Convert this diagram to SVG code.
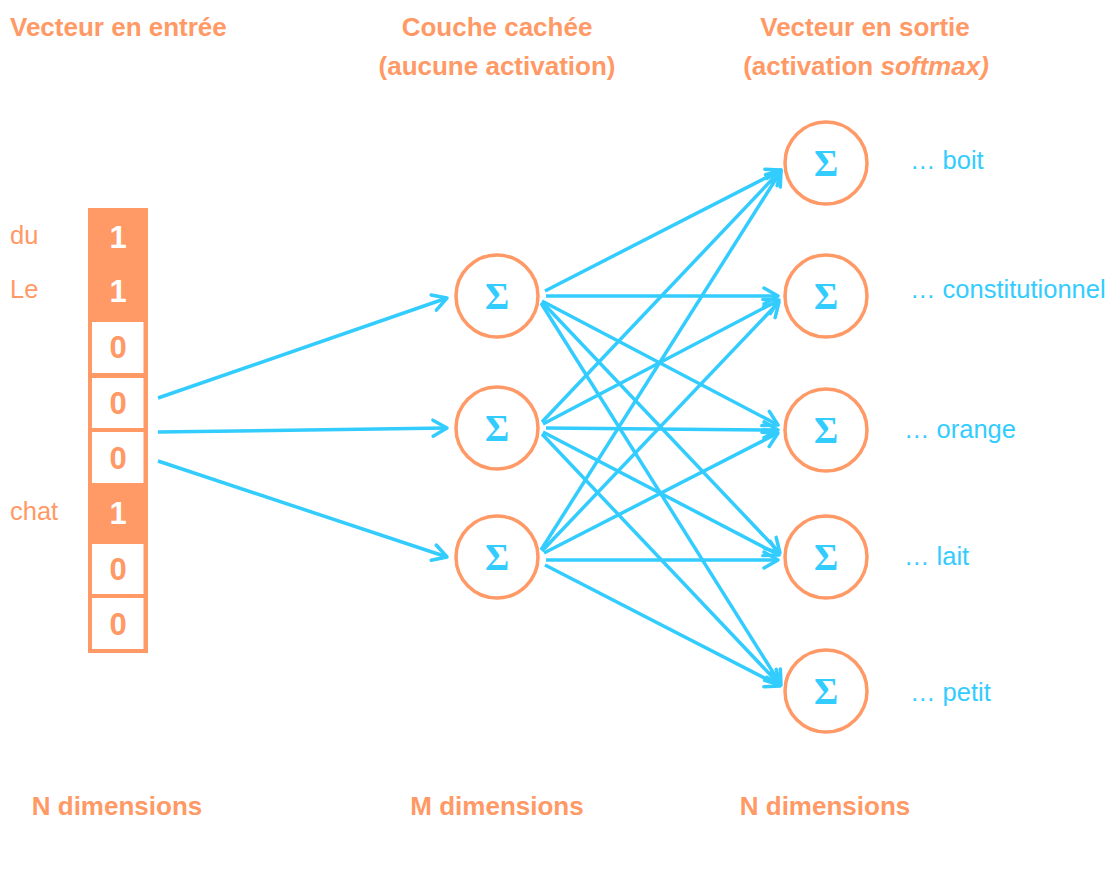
<svg xmlns="http://www.w3.org/2000/svg" width="1120" height="890" viewBox="0 0 1120 890">
<defs>
<style>
.title{font-family:"Liberation Sans",Arial,sans-serif;font-weight:bold;font-size:26px;fill:#FF9966}
.lab{font-family:"Liberation Sans",Arial,sans-serif;font-size:25.5px;fill:#FF9966}
.out{font-family:"Liberation Sans",Arial,sans-serif;font-size:25.5px;fill:#33CCFF}
.dig1{font-family:"Liberation Sans",Arial,sans-serif;font-weight:bold;font-size:31px;fill:#FFFFFF;text-anchor:middle}
.dig0{font-family:"Liberation Sans",Arial,sans-serif;font-weight:bold;font-size:31px;fill:#FF9966;text-anchor:middle}
.node{fill:#FFFFFF;stroke:#FF9966;stroke-width:3.5}
.sig{font-family:"Liberation Serif","Times New Roman",serif;font-weight:bold;font-size:37px;fill:#33CCFF;text-anchor:middle}
.edge{stroke:#33CCFF;stroke-width:3.5;fill:none;marker-end:url(#ah)}
.cell{fill:#FFFFFF}
</style>
<marker id="ah" markerUnits="userSpaceOnUse" markerWidth="24" markerHeight="24" viewBox="-18 -12 24 24" refX="0" refY="0" orient="auto" overflow="visible">
<path d="M-14,-8 L0,0 L-14,8" fill="none" stroke="#33CCFF" stroke-width="3.5" stroke-linecap="round" stroke-linejoin="round"/>
</marker>
</defs>
<rect width="1120" height="890" fill="#FFFFFF"/>

<g id="titles">
<text class="title" x="10" y="36">Vecteur en entrée</text>
<text class="title" x="497" y="36" text-anchor="middle">Couche cachée</text>
<text class="title" x="497" y="75" text-anchor="middle">(aucune activation)</text>
<text class="title" x="865" y="36" text-anchor="middle">Vecteur en sortie</text>
<text class="title" x="866" y="75" text-anchor="middle">(activation <tspan font-style="italic">softmax)</tspan></text>
<text class="title" x="117" y="815" text-anchor="middle">N dimensions</text>
<text class="title" x="497" y="815" text-anchor="middle">M dimensions</text>
<text class="title" x="825" y="815" text-anchor="middle">N dimensions</text>
</g>

<g id="input-vector">
<rect x="88" y="208" width="60" height="445" fill="#FF9966"/>
<rect class="cell" x="92" y="322" width="51.5" height="51"/>
<rect class="cell" x="92" y="378" width="51.5" height="50"/>
<rect class="cell" x="92" y="432" width="51.5" height="51"/>
<rect class="cell" x="92" y="544" width="51.5" height="50"/>
<rect class="cell" x="92" y="598" width="51.5" height="51"/>
<text class="dig1" x="118" y="248">1</text>
<text class="dig1" x="118" y="302">1</text>
<text class="dig0" x="118" y="358">0</text>
<text class="dig0" x="118" y="414">0</text>
<text class="dig0" x="118" y="469">0</text>
<text class="dig1" x="118" y="524">1</text>
<text class="dig0" x="118" y="580">0</text>
<text class="dig0" x="118" y="635">0</text>
<text class="lab" x="10" y="244">du</text>
<text class="lab" x="10" y="298">Le</text>
<text class="lab" x="10" y="520">chat</text>
</g>

<g id="connectors">
<line class="edge" x1="158" y1="398" x2="447" y2="298"/>
<line class="edge" x1="158" y1="432" x2="447" y2="428"/>
<line class="edge" x1="158" y1="461" x2="447" y2="557"/>

<line class="edge" x1="545" y1="291" x2="781" y2="170"/>
<line class="edge" x1="546" y1="296" x2="778" y2="296"/>
<line class="edge" x1="542" y1="301" x2="778" y2="425"/>
<line class="edge" x1="542" y1="302" x2="780" y2="553"/>
<line class="edge" x1="541" y1="303" x2="781" y2="685"/>

<line class="edge" x1="542" y1="422" x2="781" y2="170"/>
<line class="edge" x1="543" y1="424" x2="779" y2="300"/>
<line class="edge" x1="546" y1="428" x2="778" y2="430"/>
<line class="edge" x1="543" y1="432" x2="779" y2="555"/>
<line class="edge" x1="542" y1="434" x2="780" y2="685"/>

<line class="edge" x1="541" y1="550" x2="781" y2="171"/>
<line class="edge" x1="542" y1="551" x2="779" y2="302"/>
<line class="edge" x1="544" y1="553" x2="778" y2="433"/>
<line class="edge" x1="546" y1="560" x2="778" y2="560"/>
<line class="edge" x1="545" y1="565" x2="780" y2="686"/>
</g>

<g id="hidden-1"><circle class="node" cx="497" cy="296" r="41"/><text class="sig" x="497" y="309">Σ</text></g>
<g id="hidden-2"><circle class="node" cx="497" cy="428" r="41"/><text class="sig" x="497" y="441">Σ</text></g>
<g id="hidden-3"><circle class="node" cx="497" cy="557" r="41"/><text class="sig" x="497" y="570">Σ</text></g>

<g id="out-boit"><circle class="node" cx="826" cy="163" r="41"/><text class="sig" x="826" y="176">Σ</text><text class="out" x="910" y="169">… boit</text></g>
<g id="out-constitutionnel"><circle class="node" cx="826" cy="296" r="41"/><text class="sig" x="826" y="309">Σ</text><text class="out" x="910" y="298">… constitutionnel</text></g>
<g id="out-orange"><circle class="node" cx="826" cy="430" r="41"/><text class="sig" x="826" y="443">Σ</text><text class="out" x="904" y="438">… orange</text></g>
<g id="out-lait"><circle class="node" cx="826" cy="557" r="41"/><text class="sig" x="826" y="570">Σ</text><text class="out" x="904" y="565">… lait</text></g>
<g id="out-petit"><circle class="node" cx="826" cy="691" r="41"/><text class="sig" x="826" y="704">Σ</text><text class="out" x="910" y="701">… petit</text></g>
</svg>
